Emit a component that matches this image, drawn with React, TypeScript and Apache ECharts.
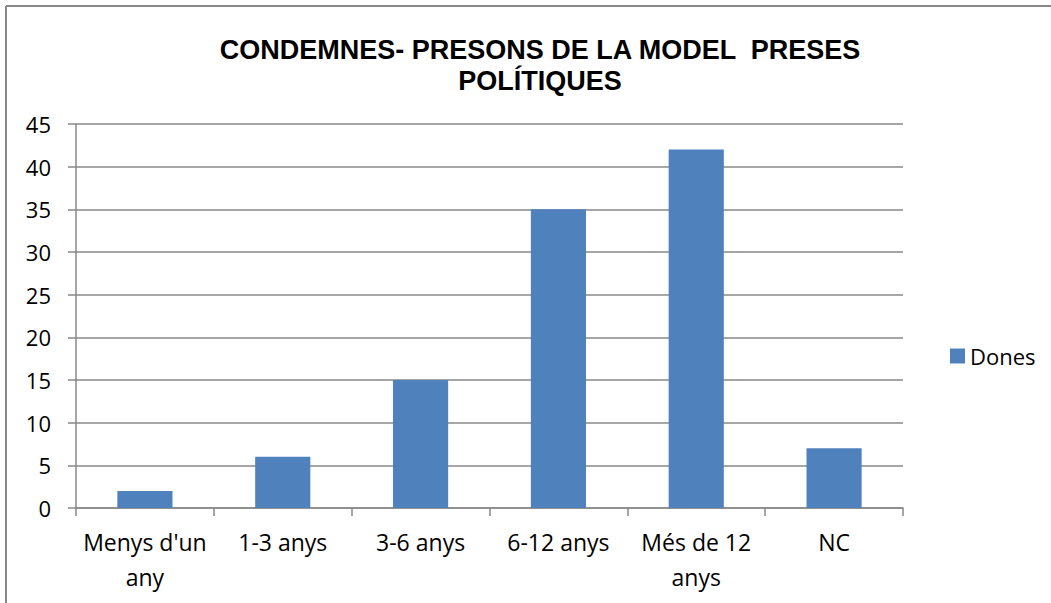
import React, { useEffect, useRef } from "react";
import * as echarts from "echarts";

const categories = ["Menys d'un\nany", "1-3 anys", "3-6 anys", "6-12 anys", "Més de 12\nanys", "NC"];
const dones = [2, 6, 15, 35, 42, 7];
const seriesName = "Dones";
const titleText = "CONDEMNES- PRESONS DE LA MODEL  PRESES\nPOLÍTIQUES";

export default function App() {
  const ref = useRef<HTMLDivElement>(null);
  useEffect(() => {
    const chart = echarts.init(ref.current!, null, { renderer: "svg" });
    chart.setOption({
      animation: false,
      backgroundColor: "#ffffff",
      title: {
        text: titleText,
        left: 535,
        textAlign: "center",
        top: 29,
        textStyle: {
          fontFamily: "Liberation Sans",
          fontWeight: "bold",
          fontSize: 27,
          lineHeight: 31,
          color: "#000",
        },
      },
      graphic: [
        { type: "line", shape: { x1: 6, y1: 6, x2: 1051, y2: 6 }, style: { stroke: "#888", lineWidth: 2 } },
        { type: "line", shape: { x1: 6, y1: 6, x2: 6, y2: 603 }, style: { stroke: "#888", lineWidth: 2 } },
      ],
      legend: {
        left: 945,
        top: 340,
        itemWidth: 15,
        itemHeight: 15,
        itemGap: 8,
        textStyle: { fontFamily: "Open Sans", fontSize: 22, color: "#000" },
        data: [{ name: seriesName, icon: "rect" }],
      },
      grid: { left: 76, right: 148, top: 124, bottom: 95 },
      xAxis: {
        type: "category",
        data: categories,
        axisLine: { lineStyle: { color: "#888", width: 1.5 } },
        axisTick: { show: true, length: 8, alignWithLabel: false, lineStyle: { color: "#888", width: 1.5 } },
        axisLabel: {
          color: "#000",
          fontFamily: "Open Sans",
          fontSize: 23,
          lineHeight: 35,
          margin: 16,
          interval: 0,
        },
      },
      yAxis: {
        type: "value",
        min: 0,
        max: 45,
        interval: 5,
        axisLine: { show: true, lineStyle: { color: "#888", width: 1.5 } },
        axisTick: { show: true, length: 8, lineStyle: { color: "#888", width: 1.5 } },
        splitLine: { lineStyle: { color: "#888", width: 1.5 } },
        axisLabel: {
          color: "#000",
          fontFamily: "Open Sans",
          fontSize: 22,
          margin: 25,
        },
      },
      series: [
        {
          name: seriesName,
          type: "bar",
          data: dones,
          barWidth: "40%",
          itemStyle: { color: "#4F81BD" },
        },
      ],
    });
    return () => chart.dispose();
  }, []);
  return <div ref={ref} style={{ width: 1051, height: 603, position: "absolute", left: 0, top: 0 }} />;
}
